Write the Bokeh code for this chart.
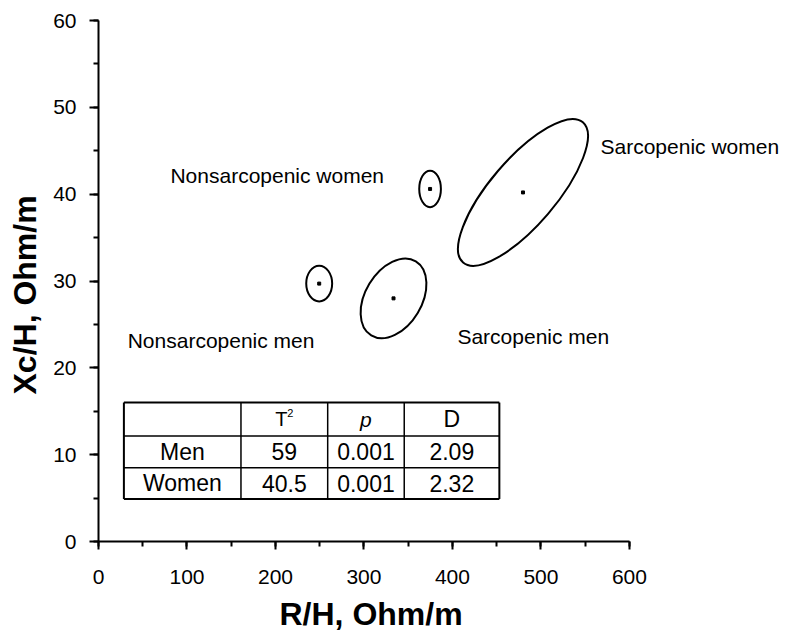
from bokeh.plotting import figure
from bokeh.models import Range1d, SingleIntervalTicker, ColumnDataSource, Label, Title
from bokeh.core.properties import value
from bokeh.embed import file_html
from bokeh.resources import INLINE

FONT = "Liberation Sans"

# ---- data ----
groups = ["Nonsarcopenic men", "Sarcopenic men", "Nonsarcopenic women", "Sarcopenic women"]
rh_mean = [249.4, 333.4, 374.7, 479.7]          # R/H, Ohm/m
xch_mean = [29.7, 28.0, 40.6, 40.2]             # Xc/H, Ohm/m
ell_width = [29.3, 97.8, 24.5, 208.4]           # ellipse width (x units)
ell_height = [4.1, 6.5, 4.2, 7.6]               # ellipse height (y units)
ell_angle = [0, 59, 0, 49.5]                    # degrees

table_rows = ["Men", "Women"]
table_t2 = ["59", "40.5"]
table_p = ["0.001", "0.001"]
table_d = ["2.09", "2.32"]

x_axis_max = 600
y_axis_max = 60
x_ticks_step = 100
y_ticks_step = 10
x_title = "R/H, Ohm/m"
y_title = "Xc/H, Ohm/m"

# ---- layout constants ----
label_x = [33, 405.6, 81.3, 567.3]
label_y = [23.1, 23.6, 42.2, 45.5]
TBL_X = [28.7, 161, 259, 345.5, 453]
TBL_Y = [16.0, 12.15, 8.5, 4.9]
X_VIEW_END = 774.1   # frame extends right of the axis so that the right label is not clipped

p = figure(width=785, height=643, x_range=Range1d(0, X_VIEW_END), y_range=Range1d(0, y_axis_max),
           output_backend="svg", toolbar_location=None,
           min_border_left=97, min_border_right=2, min_border_top=20, min_border_bottom=101)
p.outline_line_color = None
p.xgrid.visible = False
p.ygrid.visible = False

p.xaxis.bounds = (0, x_axis_max)
p.xaxis.ticker = SingleIntervalTicker(interval=x_ticks_step, num_minor_ticks=2)
p.yaxis.ticker = SingleIntervalTicker(interval=y_ticks_step, num_minor_ticks=2)
for ax, tick_out, standoff in ((p.xaxis, 8, 20), (p.yaxis, 9, 13)):
    ax.axis_line_width = 2
    ax.axis_line_color = "black"
    ax.major_tick_in = 0
    ax.major_tick_out = tick_out
    ax.minor_tick_in = 0
    ax.minor_tick_out = 5
    ax.major_tick_line_width = 2
    ax.minor_tick_line_width = 2
    ax.major_tick_line_color = "black"
    ax.minor_tick_line_color = "black"
    ax.major_label_text_font = FONT
    ax.major_label_text_font_size = "21px"
    ax.major_label_text_color = "black"
    ax.major_label_standoff = standoff

# axis titles (placed as titles so they can be positioned like the reference)
p.add_layout(Title(text=x_title, align="left", offset=181, vertical_align="top", standoff=19,
                   text_font=FONT, text_font_size="32px", text_font_style="bold",
                   text_color="black"), "below")
p.add_layout(Title(text=y_title, align="left", offset=147, vertical_align="top", standoff=12,
                   text_font=FONT, text_font_size="32px", text_font_style="bold",
                   text_color="black"), "left")

src = ColumnDataSource(dict(x=rh_mean, y=xch_mean, w=ell_width, h=ell_height, a=ell_angle))
p.ellipse(x="x", y="y", width="w", height="h", angle="a", angle_units="deg", source=src,
          fill_color=None, line_color="black", line_width=2)
p.scatter(x="x", y="y", source=src, marker="square", size=3, color="black")

for gx, gy, gt in zip(label_x, label_y, groups):
    p.add_layout(Label(x=gx, y=gy, text=gt, text_font=FONT, text_font_size="21px",
                       text_color="black", text_baseline="alphabetic", text_align="left"))

# ---- table ----
x0, x1 = TBL_X[0], TBL_X[-1]
y0, y1 = TBL_Y[0], TBL_Y[-1]
hx0 = [x0] * len(TBL_Y); hx1 = [x1] * len(TBL_Y)
vy0 = [y0] * len(TBL_X); vy1 = [y1] * len(TBL_X)
p.segment(x0=hx0[1:-1], y0=TBL_Y[1:-1], x1=hx1[1:-1], y1=TBL_Y[1:-1], line_color="black", line_width=1.5)
p.segment(x0=TBL_X[1:-1], y0=vy0[1:-1], x1=TBL_X[1:-1], y1=vy1[1:-1], line_color="black", line_width=1.5)
p.segment(x0=[x0, x0, x0, x1], y0=[y0, y1, y0, y0], x1=[x1, x1, x0, x1], y1=[y0, y1, y1, y1],
          line_color="black", line_width=2)

col_c = [(TBL_X[i] + TBL_X[i + 1]) / 2 for i in range(4)]
row_c = [(TBL_Y[i] + TBL_Y[i + 1]) / 2 for i in range(3)]

cell_x, cell_y, cell_t = [], [], []
for r, name in enumerate(table_rows):
    vals = [name, table_t2[r], table_p[r], table_d[r]]
    for c, v in enumerate(vals):
        cell_x.append(col_c[c]); cell_y.append(row_c[r + 1]); cell_t.append(v)
p.text(x=cell_x, y=cell_y, text=cell_t, text_font=value(FONT), text_font_size=value("23px"),
       text_color="black", text_align="center", text_baseline="middle")
# header
p.text(x=[col_c[1]], y=[row_c[0]], text=["T"], x_offset=-3, text_font=value(FONT),
       text_font_size=value("20px"), text_color="black", text_align="center", text_baseline="middle")
p.text(x=[col_c[1]], y=[row_c[0]], text=["2"], x_offset=6, y_offset=-6, text_font=value(FONT),
       text_font_size=value("11px"), text_color="black", text_align="center", text_baseline="middle")
p.text(x=[col_c[2]], y=[row_c[0]], text=["p"], text_font=value(FONT), text_font_style="italic",
       text_font_size=value("21px"), text_color="black", text_align="center", text_baseline="middle")
p.text(x=[col_c[3]], y=[row_c[0]], text=["D"], text_font=value(FONT),
       text_font_size=value("23px"), text_color="black", text_align="center", text_baseline="middle")

open("out.html", "w").write(file_html(p, INLINE))
